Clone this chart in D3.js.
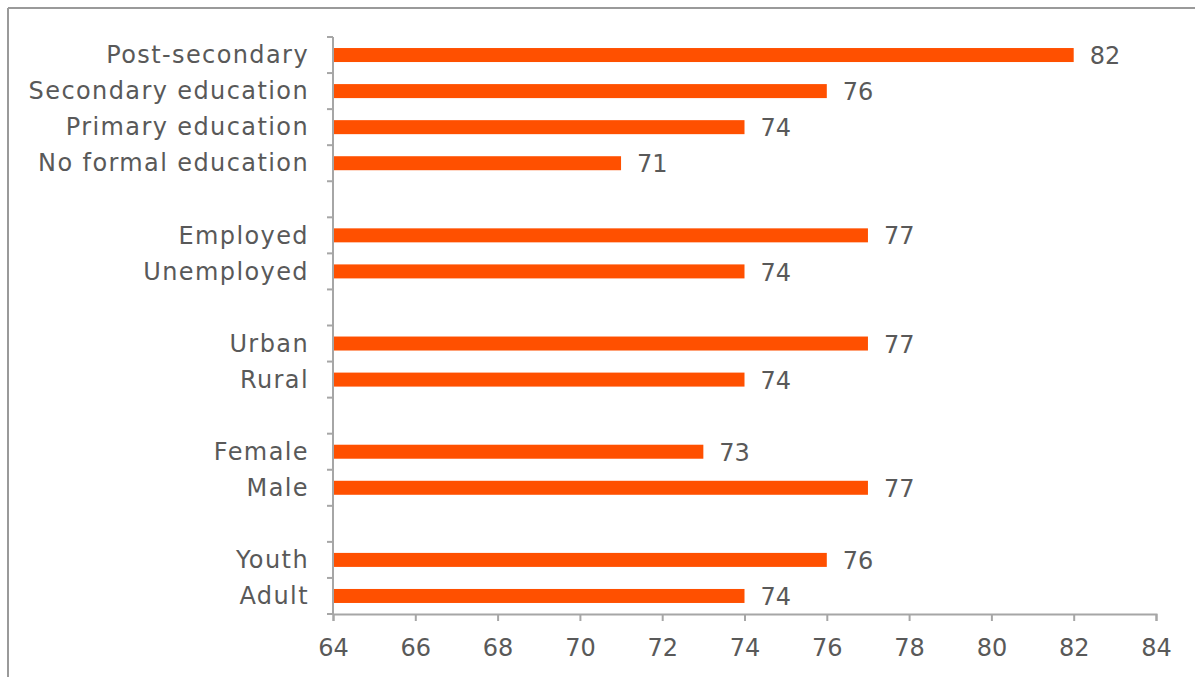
<!DOCTYPE html>
<html>
<head>
<meta charset="utf-8">
<script src="https://cdn.jsdelivr.net/npm/d3@7"></script>
<style>
  body { margin: 0; background: #fff; }
  text { font-family: "DejaVu Sans", sans-serif; }
</style>
</head>
<body>
<div id="chart"></div>
<script>
// categories top to bottom, "" marks the empty spacer rows
var categories = ["Post-secondary", "Secondary education", "Primary education", "No formal education", "",
                  "Employed", "Unemployed", "",
                  "Urban", "Rural", "",
                  "Female", "Male", "",
                  "Youth", "Adult"];
var values = [82, 76, 74, 71, null,
              77, 74, null,
              77, 74, null,
              73, 77, null,
              76, 74];
var xTicks = [64, 66, 68, 70, 72, 74, 76, 78, 80, 82, 84];

var W = 1195, H = 677;
var margin = {top: 37, right: 39, bottom: 63, left: 333},
    width = W - margin.left - margin.right,
    height = H - margin.top - margin.bottom;

var svg = d3.select("#chart").append("svg")
    .attr("width", W)
    .attr("height", H);

// frame lines (top and left only visible)
svg.append("line").attr("x1", 8).attr("x2", W).attr("y1", 8).attr("y2", 8)
  .attr("stroke", "#9a9a9a").attr("stroke-width", 2);
svg.append("line").attr("x1", 8).attr("x2", 8).attr("y1", 8).attr("y2", H)
  .attr("stroke", "#9a9a9a").attr("stroke-width", 2);

var g = svg.append("g")
    .attr("transform", "translate(" + margin.left + "," + margin.top + ")");

var x = d3.scaleLinear().domain([64, 84]).range([0, width]);
var y = d3.scaleBand().domain(d3.range(categories.length)).range([0, height]).padding(0);

var data = categories.map(function (c, i) { return {i: i, cat: c, v: values[i]}; });

// bars
g.selectAll("rect.bar")
  .data(data.filter(function (d) { return d.v != null; }))
  .enter().append("rect")
    .attr("class", "bar")
    .attr("x", x(64))
    .attr("y", function (d) { return y(d.i) + y.bandwidth() / 2 - 7; })
    .attr("width", function (d) { return x(d.v) - x(64); })
    .attr("height", 14)
    .attr("fill", "#ff5000");

// value labels
g.selectAll("text.val")
  .data(data.filter(function (d) { return d.v != null; }))
  .enter().append("text")
    .attr("class", "val")
    .attr("x", function (d) { return x(d.v) + 16; })
    .attr("y", function (d) { return y(d.i) + y.bandwidth() / 2; })
    .attr("dy", "0.38em")
    .attr("fill", "#595959")
    .style("font-size", "24px")
    .text(function (d) { return d.v; });

// y axis: tick marks on band boundaries, labels separately
var yAx = g.append("g");
yAx.append("line").attr("x1", 0).attr("x2", 0).attr("y1", 0).attr("y2", height)
  .attr("stroke", "#a6a6a6").attr("stroke-width", 2);
yAx.selectAll("line.tk")
  .data(d3.range(categories.length + 1))
  .enter().append("line")
    .attr("class", "tk")
    .attr("x1", -6).attr("x2", 0)
    .attr("y1", function (i) { return i < categories.length ? y(i) : height; })
    .attr("y2", function (i) { return i < categories.length ? y(i) : height; })
    .attr("stroke", "#a6a6a6").attr("stroke-width", 2);
yAx.selectAll("text")
  .data(data.filter(function (d) { return d.cat !== ""; }))
  .enter().append("text")
    .attr("x", -24)
    .attr("y", function (d) { return y(d.i) + y.bandwidth() / 2; })
    .attr("dy", "0.34em")
    .attr("text-anchor", "end")
    .attr("fill", "#595959")
    .style("font-size", "24px")
    .style("letter-spacing", "1.4px")
    .text(function (d) { return d.cat; });

// x axis
var xAxis = g.append("g")
    .attr("transform", "translate(0," + height + ")")
    .call(d3.axisBottom(x).tickValues(xTicks).tickSize(7).tickSizeOuter(7).tickPadding(18));
xAxis.select(".domain").attr("stroke", "#a6a6a6").attr("stroke-width", 2);
xAxis.selectAll(".tick line").attr("stroke", "#a6a6a6").attr("stroke-width", 2);
xAxis.selectAll("text")
  .attr("fill", "#595959")
  .style("font-size", "24px")
  .style("font-family", "DejaVu Sans, sans-serif");
</script>
</body>
</html>
